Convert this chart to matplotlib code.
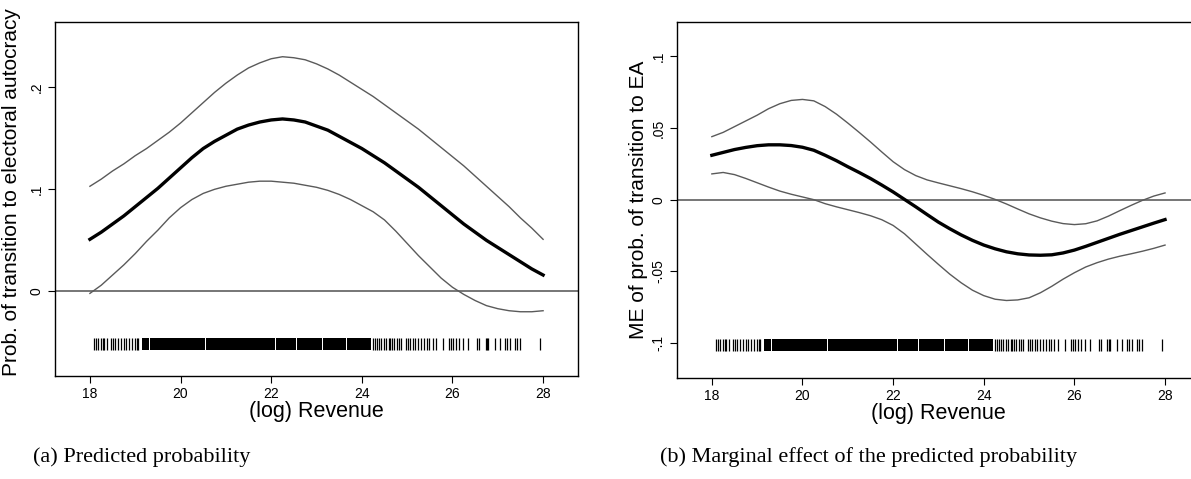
import numpy as np
import matplotlib.pyplot as plt

# (log) revenue grid on which the curves were read (every 0.25)
rev = np.linspace(18, 28, 41)

# panel a: predicted probability with CI
pp_mean = [0.051, 0.058, 0.066, 0.074, 0.083, 0.092, 0.101, 0.111, 0.121, 0.131, 0.140,
           0.147, 0.153, 0.159, 0.163, 0.166, 0.168, 0.169, 0.168, 0.166, 0.162,
           0.158, 0.152, 0.146, 0.140, 0.133, 0.126, 0.118, 0.110, 0.102, 0.093,
           0.084, 0.075, 0.066, 0.058, 0.050, 0.043, 0.036, 0.029, 0.022, 0.016]
pp_upper = [0.103, 0.110, 0.118, 0.125, 0.133, 0.140, 0.148, 0.156, 0.165, 0.175, 0.185,
            0.195, 0.204, 0.212, 0.219, 0.224, 0.228, 0.230, 0.229, 0.227, 0.223,
            0.218, 0.212, 0.205, 0.198, 0.191, 0.183, 0.175, 0.167, 0.159, 0.150,
            0.141, 0.132, 0.123, 0.113, 0.103, 0.093, 0.083, 0.072, 0.062, 0.051]
pp_lower = [-0.002, 0.006, 0.016, 0.026, 0.037, 0.049, 0.060, 0.072, 0.082, 0.090, 0.096,
            0.100, 0.103, 0.105, 0.107, 0.108, 0.108, 0.107, 0.106, 0.104, 0.102,
            0.099, 0.095, 0.090, 0.084, 0.078, 0.070, 0.059, 0.047, 0.035, 0.024,
            0.013, 0.004, -0.003, -0.009, -0.014, -0.017, -0.019, -0.020, -0.020, -0.019]

# panel b: marginal effect with CI
me_mean = [0.031, 0.033, 0.035, 0.0365, 0.0377, 0.0383, 0.0383, 0.0378, 0.0366, 0.0345, 0.031,
           0.0272, 0.023, 0.019, 0.0148, 0.0102, 0.0054, 0.0002, -0.005, -0.0104, -0.0157,
           -0.0203, -0.0246, -0.0284, -0.0317, -0.0343, -0.0364, -0.0378, -0.0386, -0.0388, -0.0385,
           -0.0372, -0.0352, -0.0326, -0.0298, -0.0270, -0.0242, -0.0216, -0.0190, -0.0164, -0.0139]
me_upper = [0.044, 0.047, 0.051, 0.055, 0.059, 0.0635, 0.067, 0.0693, 0.070, 0.069, 0.065,
            0.0597, 0.0535, 0.047, 0.0403, 0.0333, 0.0265, 0.021, 0.0168, 0.0138, 0.0117,
            0.0097, 0.0077, 0.0055, 0.003, 0.0002, -0.003, -0.0065, -0.0099, -0.0127, -0.015,
            -0.0167, -0.0174, -0.0168, -0.0148, -0.0115, -0.0077, -0.004, -0.0005, 0.0025, 0.0047]
me_lower = [0.018, 0.019, 0.0175, 0.0148, 0.0118, 0.0088, 0.006, 0.0038, 0.0019, 0.0, -0.0028,
            -0.005, -0.007, -0.009, -0.0112, -0.014, -0.018, -0.0238, -0.031, -0.0382, -0.0452,
            -0.052, -0.058, -0.0632, -0.067, -0.0695, -0.0704, -0.070, -0.0685, -0.065, -0.0605,
            -0.0555, -0.051, -0.047, -0.044, -0.0415, -0.0395, -0.0378, -0.036, -0.034, -0.0317]

# observed revenue values (rug): single spikes and dense stretches
rug_ticks = [18.09, 18.13, 18.18, 18.25, 18.28, 18.32, 18.38, 18.47, 18.51, 18.56, 18.62,
             18.69, 18.75, 18.80, 18.87, 18.93, 19.00, 19.04, 19.06,
             24.25, 24.29, 24.33, 24.38, 24.42, 24.48, 24.53, 24.59, 24.63, 24.67, 24.71,
             24.77, 24.82, 24.87, 24.97, 25.02, 25.07, 25.12, 25.18, 25.24, 25.31, 25.37,
             25.43, 25.49, 25.56, 25.64, 25.80, 25.92, 25.97, 26.02, 26.07, 26.14, 26.24,
             26.34, 26.54, 26.58, 26.73, 26.76, 26.79, 26.93, 27.04, 27.15, 27.21, 27.27,
             27.38, 27.42, 27.49, 27.93]
rug_dense = [(19.14, 19.30), (19.32, 20.55), (20.57, 21.17), (21.19, 22.08), (22.10, 22.55),
             (22.57, 23.12), (23.14, 23.65), (23.67, 24.21)]

xticks = [18, 20, 22, 24, 26, 28]
a_yticks = [0, 0.1, 0.2]
a_ylabels = ['0', '.1', '.2']
b_yticks = [-0.1, -0.05, 0, 0.05, 0.1]
b_ylabels = ['-.1', '-.05', '0', '.05', '.1']

plt.rcParams['font.family'] = ['Liberation Sans', 'DejaVu Sans']

fig = plt.figure(figsize=(11.91, 4.79), dpi=100)
ax1 = fig.add_axes([0.0462, 0.215, 0.4391, 0.739])
ax2 = fig.add_axes([0.5684, 0.2109, 0.4391, 0.743])

ci_col = '#5a5a5a'


def draw_panel(ax, mean, upper, lower, ylim, yticks, ylabels, ylabel, rug_lo, rug_hi):
    ax.axhline(0, color='#5f5f5f', lw=1.2, zorder=1)
    ax.plot(rev, upper, color=ci_col, lw=1.0)
    ax.plot(rev, lower, color=ci_col, lw=1.0)
    ax.plot(rev, mean, color='black', lw=2.4)
    ax.vlines(rug_ticks, rug_lo, rug_hi, color='black', lw=0.9)
    ax.broken_barh([(a, b - a) for a, b in rug_dense], (rug_lo, rug_hi - rug_lo),
                   facecolor='black', edgecolor='none')
    ax.set_xlim(17.23, 28.77)
    ax.set_ylim(*ylim)
    ax.set_xticks(xticks)
    ax.set_xticklabels([str(t) for t in xticks], fontsize=10)
    ax.set_yticks(yticks)
    ax.set_yticklabels(ylabels, fontsize=10, rotation=90, va='center')
    ax.tick_params(direction='out', length=5, width=0.8, pad=3)
    ax.set_xlabel('(log) Revenue', fontsize=15.5, labelpad=0)
    ax.set_ylabel(ylabel, fontsize=15, labelpad=3)
    for s in ax.spines.values():
        s.set_linewidth(1.0)


draw_panel(ax1, pp_mean, pp_upper, pp_lower, (-0.083, 0.264), a_yticks, a_ylabels,
           'Prob. of transition to electoral autocracy', -0.0575, -0.0455)
draw_panel(ax2, me_mean, me_upper, me_lower, (-0.1245, 0.124), b_yticks, b_ylabels,
           'ME of prob. of transition to EA', -0.106, -0.097)
ax1.yaxis.set_label_coords(-0.065, 0.52)

fig.text(0.028, 0.036, '(a) Predicted probability', fontsize=16,
         family=['Liberation Serif', 'DejaVu Serif'])
fig.text(0.554, 0.036, '(b) Marginal effect of the predicted probability', fontsize=16,
         family=['Liberation Serif', 'DejaVu Serif'])

fig.savefig('out.png', dpi=100)
